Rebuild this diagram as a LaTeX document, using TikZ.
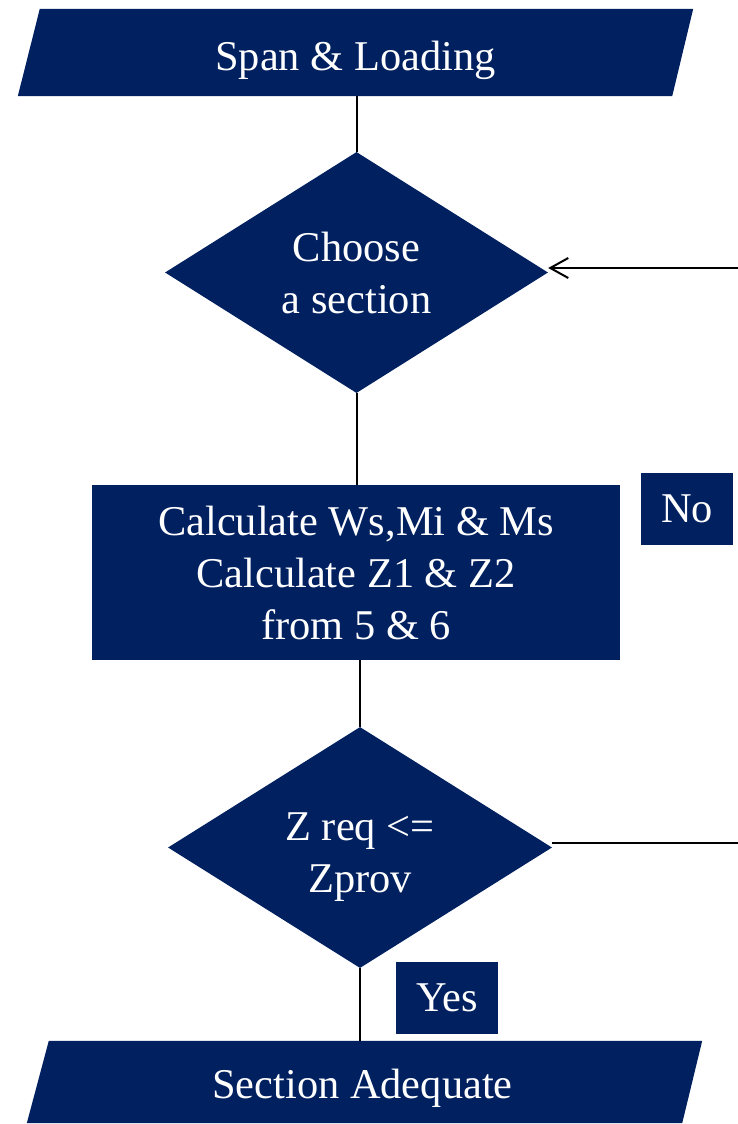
\documentclass[tikz,border=0pt]{standalone}
\usepackage{fontspec}
\setmainfont{Liberation Serif}
\usetikzlibrary{shapes.geometric,arrows.meta,backgrounds}
\definecolor{navy}{RGB}{0,32,96}
\begin{document}
\begin{tikzpicture}[x=1pt,y=-1pt,
  txt/.style={text=white,font=\fontsize{42.4}{52}\selectfont,align=center,inner sep=0pt},
  boxnode/.style={txt,fill=navy,rectangle},
  decision/.style={txt,fill=navy,diamond},
  ionode/.style={txt,rectangle},
  conn/.style={line width=2pt,black}]
\useasboundingbox (0,0) rectangle (738,1124);
% top parallelogram
\node[ionode,minimum width=675pt,minimum height=87pt,
  label={[txt,yshift=-8pt]center:Span \& Loading}] (top) at (355.5,52.5) {};
% diamond 1
\node[decision,minimum width=383pt,minimum height=241pt] (d1) at (356.5,272.5) {Choose\\a section};
% process
\node[boxnode,minimum width=528pt,minimum height=175pt] (calc) at (356,572.5) {Calculate Ws,Mi \& Ms\\Calculate Z1 \& Z2\\from 5 \& 6};
% diamond 2
\node[decision,minimum width=384pt,minimum height=241pt,
  label={[txt,yshift=-10pt]center:{Z req <=\\Zprov}}] (d2) at (360,847.5) {};
% bottom parallelogram
\node[ionode,minimum width=675pt,minimum height=82pt,
  label={[txt,xshift=-2pt,yshift=-6pt]center:Section Adequate}] (bot) at (364.5,1082) {};
% labels
\node[boxnode,minimum width=92pt,minimum height=72pt] (no) at (687,509) {No};
\node[boxnode,minimum width=102pt,minimum height=72pt] (yes) at (447,998) {Yes};
% parallelogram fills
\begin{scope}[on background layer]
\fill[navy] ([xshift=22pt]top.north west) -- (top.north east) -- ([xshift=-21pt]top.south east) -- (top.south west) -- cycle;
\fill[navy] ([xshift=22pt]bot.north west) -- (bot.north east) -- ([xshift=-20pt]bot.south east) -- (bot.south west) -- cycle;
\end{scope}
% edge coordinates
\coordinate (rin) at (738,268);
\coordinate (rout) at (738,843);
% connectors
\draw[conn] (top.south -| d1.north) -- (d1.north);
\draw[conn] (d1.south) -- (d1.south |- calc.north);
\draw[conn] (d2.north |- calc.south) -- (d2.north);
\draw[conn] (d2.south) -- (d2.south |- bot.north);
\draw[conn,-{Straight Barb[length=18pt,width=20pt]}] (rin) -- (rin -| d1.east);
\draw[conn] (rout -| d2.east) -- (rout);
\end{tikzpicture}
\end{document}
